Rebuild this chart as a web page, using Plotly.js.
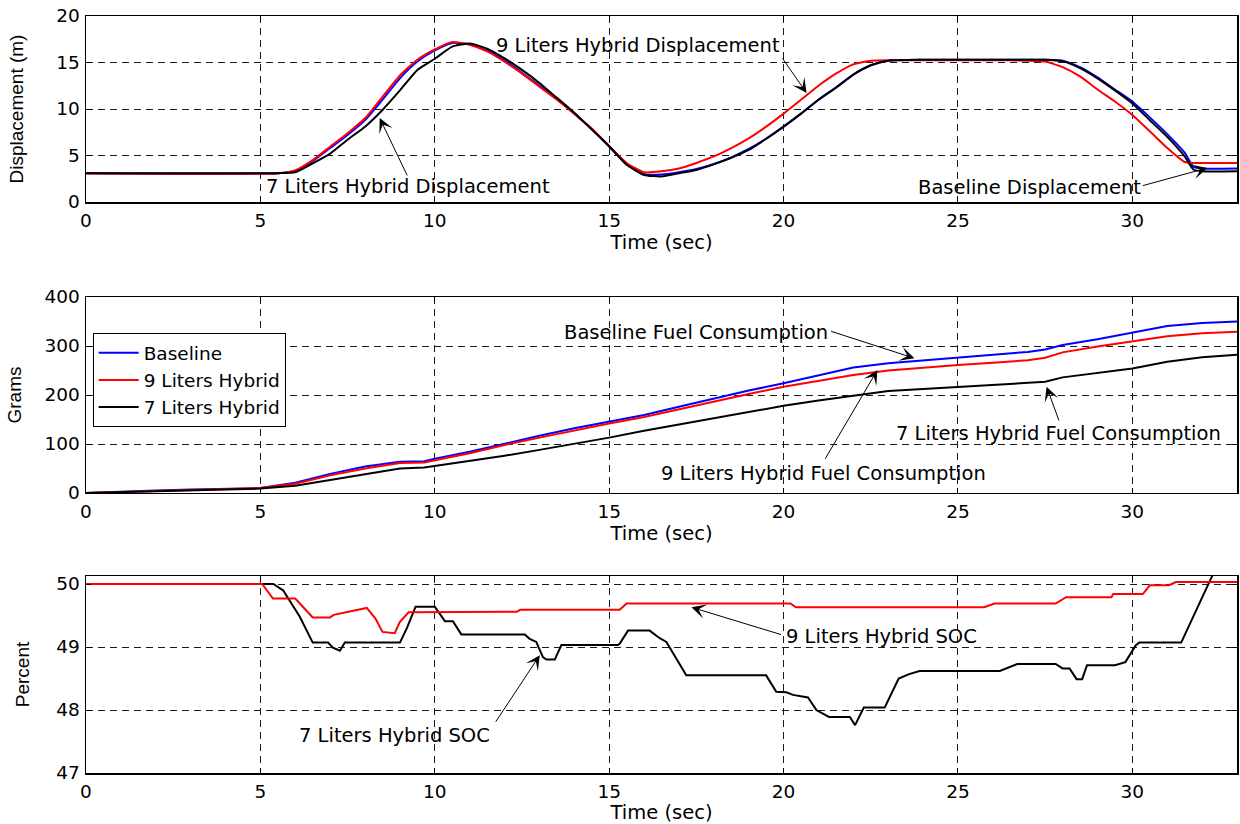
<!DOCTYPE html>
<html><head><meta charset="utf-8">
<script src="https://cdn.plot.ly/plotly-3.0.1.min.js"></script>
<style>html,body{margin:0;padding:0;background:#fff;}#chart{width:1240px;height:824px;}</style>
</head><body><div id="chart"></div>
<script>
// ---------- Displacement (top panel) ----------
const tDisp = [0, 5.5, 6, 6.5, 7, 7.5, 8, 8.5, 9, 9.5, 10, 10.5, 11, 11.5, 12, 12.5, 13, 13.5, 14, 14.5, 15, 15.5, 16, 16.5, 17, 17.5, 18, 18.5, 19, 19.5, 20, 20.5, 21, 21.5, 22, 22.5, 23, 24, 25, 26, 27, 27.5, 28, 28.5, 29, 29.5, 30, 30.5, 31, 31.5, 31.75, 32, 33];
const dispBaseline = [3.1, 3.1, 3.35, 4.4, 5.8, 7.2, 8.8, 11.0, 13.3, 15.1, 16.3, 17.1, 16.95, 16.3, 15.2, 13.9, 12.5, 11.1, 9.5, 7.85, 5.95, 4.1, 3.0, 2.95, 3.2, 3.55, 4.1, 4.8, 5.7, 6.8, 8.1, 9.5, 11.0, 12.3, 13.7, 14.7, 15.2, 15.3, 15.3, 15.3, 15.3, 15.3, 15.2, 14.5, 13.4, 12.1, 10.8, 9.1, 7.3, 5.3, 3.8, 3.6, 3.6];
const disp9L = [3.1, 3.1, 3.4, 4.5, 5.95, 7.4, 9.0, 11.3, 13.6, 15.3, 16.4, 17.2, 16.9, 16.2, 15.1, 13.8, 12.4, 11.0, 9.5, 7.9, 6.0, 4.2, 3.2, 3.3, 3.6, 4.2, 4.9, 5.8, 6.85, 8.1, 9.5, 11.0, 12.5, 13.8, 14.8, 15.2, 15.25, 15.25, 15.25, 15.25, 15.2, 15.1, 14.5, 13.5, 12.1, 10.8, 9.35, 7.6, 5.8, 4.3, 4.2, 4.2, 4.2];
const disp7L = [3.1, 3.1, 3.2, 4.15, 5.2, 6.7, 8.1, 9.9, 12.0, 14.2, 15.4, 16.7, 17.05, 16.5, 15.45, 14.2, 12.8, 11.2, 9.6, 7.8, 6.0, 4.0, 2.9, 2.75, 3.1, 3.45, 4.05, 4.75, 5.6, 6.8, 8.1, 9.5, 11.0, 12.3, 13.7, 14.7, 15.2, 15.3, 15.3, 15.3, 15.3, 15.3, 15.15, 14.4, 13.3, 12.0, 10.6, 8.8, 7.0, 4.9, 3.5, 3.3, 3.3];

// ---------- Fuel consumption (middle panel) ----------
const tFuel = [0, 1, 2, 3, 4, 5, 6, 7, 8, 9, 9.7, 10, 11, 12, 13, 14, 15, 16, 17, 18, 19, 20, 21, 22, 23, 24, 25, 26, 27, 27.5, 28, 29, 30, 31, 32, 33];
const fuelBaseline = [0, 3, 5, 7, 8, 10, 21, 39, 54, 64, 65, 70, 84, 101, 117, 132, 145, 159, 176, 193, 209, 224, 240, 256, 265, 271, 276, 282, 288, 293, 302, 314, 327, 341, 347, 350];
const fuel9L = [0, 2, 4, 6, 8, 10, 19, 36, 50, 61, 62, 67, 81, 98, 113, 128, 142, 155, 171, 186, 202, 217, 229, 241, 250, 256, 261, 266, 271, 276, 287, 299, 310, 320, 326, 329];
const fuel7L = [0, 2, 3, 5, 7, 9, 15, 27, 38, 50, 52, 55, 65, 76, 88, 100, 113, 127, 140, 153, 166, 178, 189, 198, 208, 212, 216, 220, 224, 227, 236, 245, 254, 268, 277, 282];

// ---------- Battery SOC (bottom panel) ----------
const tSoc9L = [0, 5.05, 5.36, 6.0, 6.5, 7.0, 7.1, 7.5, 7.8, 8.05, 8.3, 8.5, 8.85, 9.0, 9.25, 12.35, 12.45, 15.3, 15.5, 20.2, 20.35, 25.75, 26.05, 27.8, 28.1, 29.4, 29.45, 30.3, 30.5, 31.05, 31.25, 33];
const soc9L = [50, 50, 49.77, 49.77, 49.47, 49.47, 49.51, 49.56, 49.6, 49.62, 49.45, 49.24, 49.22, 49.4, 49.55, 49.56, 49.59, 49.59, 49.69, 49.69, 49.63, 49.63, 49.69, 49.69, 49.79, 49.79, 49.84, 49.84, 49.98, 49.98, 50.03, 50.03];
const tSoc7L = [0, 5.37, 5.65, 6.13, 6.5, 6.94, 7.08, 7.28, 7.42, 9.0, 9.2, 9.45, 10.0, 10.29, 10.52, 10.76, 12.58, 12.72, 12.91, 13.1, 13.2, 13.44, 13.63, 15.25, 15.3, 15.54, 16.16, 16.45, 16.64, 17.21, 19.5, 19.79, 20.08, 20.27, 20.7, 20.94, 21.3, 21.9, 22.05, 22.3, 22.9, 23.3, 23.6, 23.9, 26.2, 26.5, 26.7, 27.8, 28.0, 28.2, 28.4, 28.56, 28.7, 29.5, 29.8, 30.1, 30.2, 31.4, 32.27, 32.6];
const soc7L = [50, 50, 49.9, 49.48, 49.07, 49.07, 48.99, 48.94, 49.07, 49.07, 49.3, 49.64, 49.64, 49.41, 49.41, 49.2, 49.2, 49.13, 49.08, 48.84, 48.8, 48.8, 49.03, 49.03, 49.05, 49.26, 49.26, 49.14, 49.08, 48.55, 48.55, 48.29, 48.28, 48.24, 48.2, 48.0, 47.89, 47.89, 47.76, 48.04, 48.04, 48.5, 48.57, 48.62, 48.62, 48.69, 48.73, 48.73, 48.66, 48.66, 48.49, 48.49, 48.71, 48.71, 48.76, 49.03, 49.07, 49.07, 50.13, 50.5];

// ---------- Ticks & labels ----------
const xTicks = [0, 5, 10, 15, 20, 25, 30];
const dispTicks = [0, 5, 10, 15, 20];
const fuelTicks = [0, 100, 200, 300, 400];
const socTicks = [47, 48, 49, 50];
const seriesNames = ['Baseline', '9 Liters Hybrid', '7 Liters Hybrid'];
const seriesColors = ['#0000ff', '#ff0000', '#000000'];

const FONT = '"DejaVu Sans", Arial, sans-serif';
const YFONT = '"Liberation Sans", Arial, sans-serif';

function line(x, y, idx, xa, ya, legend, smooth) {
  const ln = {color: seriesColors[idx], width: 2};
  if (smooth) { ln.shape = 'spline'; ln.smoothing = 0.5; }
  return {x: x, y: y, type: 'scatter', mode: 'lines', name: seriesNames[idx],
    line: ln, xaxis: xa, yaxis: ya, showlegend: legend, hoverinfo: 'skip'};
}

const traces = [
  line(tDisp, dispBaseline, 0, 'x', 'y', false, true),
  line(tDisp, disp9L, 1, 'x', 'y', false, true),
  line(tDisp, disp7L, 2, 'x', 'y', false, true),
  line(tFuel, fuelBaseline, 0, 'x2', 'y2', true, false),
  line(tFuel, fuel9L, 1, 'x2', 'y2', true, false),
  line(tFuel, fuel7L, 2, 'x2', 'y2', true, false),
  line(tSoc7L, soc7L, 2, 'x3', 'y3', false, false),
  line(tSoc9L, soc9L, 1, 'x3', 'y3', false, false)
];

const gridStyle = {showgrid: true, gridcolor: '#1a1a1a', gridwidth: 1, griddash: '7px,5px',
  zeroline: false, showline: true, linecolor: '#000', linewidth: 1.5, mirror: 'allticks',
  ticks: 'inside', ticklen: 5, tickcolor: '#000', tickwidth: 1,
  tickfont: {family: FONT, size: 18.5, color: '#000'}};

function xAxis(anchor) {
  return Object.assign({}, gridStyle, {anchor: anchor, domain: [0, 1], range: [0, 33],
    tickmode: 'array', tickvals: xTicks, ticklabelstandoff: 1,
    title: {text: 'Time (sec)', font: {family: FONT, size: 19.5, color: '#000'}, standoff: 0}});
}
function yAxis(anchor, domain, range, ticks, title, standoff) {
  return Object.assign({}, gridStyle, {anchor: anchor, domain: domain, range: range,
    tickmode: 'array', tickvals: ticks, ticklabelstandoff: 1,
    title: {text: title, font: {family: YFONT, size: 19, color: '#000'}, standoff: standoff}});
}

function label(xa, ya, x, y, text) {
  return {xref: xa, yref: ya, x: x, y: y, text: text, showarrow: false,
    xanchor: 'center', yanchor: 'middle', font: {family: FONT, size: 19.5, color: '#000'}};
}
function arrow(xa, ya, x0, y0, x1, y1) {
  return {xref: xa, yref: ya, axref: xa, ayref: ya, x: x1, y: y1, ax: x0, ay: y0,
    text: '', showarrow: true, arrowhead: 3, arrowsize: 2.4, arrowwidth: 1, arrowcolor: '#000'};
}

const annotations = [
  label('x', 'y', 9.23, 1.72, '7 Liters Hybrid Displacement'),
  arrow('x', 'y', 9.23, 2.69, 8.42, 9.03),
  label('x', 'y', 15.82, 16.88, '9 Liters Hybrid Displacement'),
  arrow('x', 'y', 19.94, 15.6, 20.66, 11.72),
  label('x', 'y', 27.05, 1.61, 'Baseline Displacement'),
  arrow('x', 'y', 30.26, 1.72, 32.15, 3.66),
  label('x2', 'y2', 17.48, 327, 'Baseline Fuel Consumption'),
  arrow('x2', 'y2', 21.32, 331, 23.75, 275),
  label('x2', 'y2', 21.15, 40, '9 Liters Hybrid Fuel Consumption'),
  arrow('x2', 'y2', 21.17, 67, 22.69, 251),
  label('x2', 'y2', 27.89, 122, '7 Liters Hybrid Fuel Consumption'),
  arrow('x2', 'y2', 27.91, 145, 27.54, 217),
  label('x3', 'y3', 22.81, 49.17, '9 Liters Hybrid SOC'),
  arrow('x3', 'y3', 19.97, 49.19, 17.36, 49.63),
  label('x3', 'y3', 8.85, 47.6, '7 Liters Hybrid SOC'),
  arrow('x3', 'y3', 11.72, 47.79, 13.01, 48.87)
];

const layout = {
  width: 1240, height: 824,
  margin: {l: 86, r: 3, t: 0, b: 0, pad: 0},
  paper_bgcolor: '#fff', plot_bgcolor: '#fff',
  font: {family: FONT, size: 18, color: '#000'},
  showlegend: true,
  legend: {x: 0.0058, xanchor: 'left', y: 0.5955, yanchor: 'top', bgcolor: '#fff',
    bordercolor: '#000', borderwidth: 1, font: {family: FONT, size: 18.5, color: '#000'},
    tracegroupgap: 0, itemwidth: 40},
  xaxis: xAxis('y'),
  yaxis: yAxis('x', [0.75485, 0.98058], [0, 20], dispTicks, 'Displacement (m)', 27),
  xaxis2: xAxis('y2'),
  yaxis2: yAxis('x2', [0.40170, 0.63956], [0, 400], fuelTicks, 'Grams', 18),
  xaxis3: xAxis('y3'),
  yaxis3: yAxis('x3', [0.06189, 0.30097], [47, 50.127], socTicks, 'Percent', 21),
  annotations: annotations
};

Plotly.newPlot('chart', traces, layout, {staticPlot: true, displayModeBar: false});
</script></body></html>
